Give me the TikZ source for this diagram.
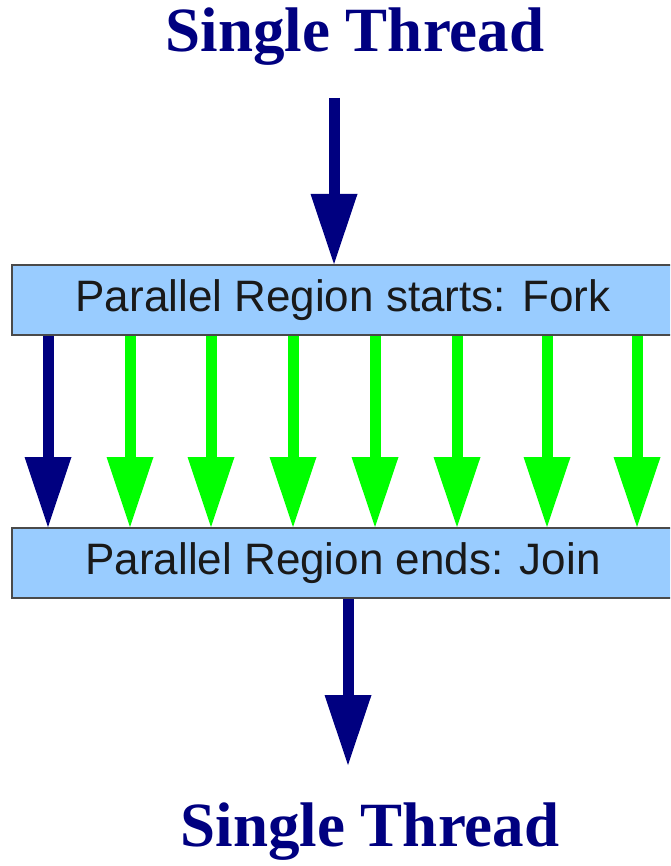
\documentclass[tikz,border=0pt]{standalone}
\usepackage{fontspec}
\setmainfont{Liberation Serif}
\newfontfamily\labelfont{Liberation Sans}
\usetikzlibrary{arrows.meta}
\definecolor{threadnavy}{HTML}{000080}
\definecolor{threadgreen}{HTML}{00FF00}
\definecolor{regionfill}{HTML}{99CCFF}
\definecolor{regionedge}{HTML}{4A4A4A}
\tikzset{
  title/.style={text=threadnavy, font=\fontsize{63}{63}\selectfont\bfseries, inner sep=0pt},
  regionbox/.style={draw=regionedge, line width=2pt, fill=regionfill,
    minimum width=662pt, minimum height=70pt, inner sep=0pt,
    font=\labelfont\fontsize{44}{44}\selectfont, text=black!90},
  thread/.style={line width=11pt,
    -{Triangle[width=47pt,length=70pt,line width=0pt]}},
  master/.style={thread, draw=threadnavy},
  worker/.style={thread, draw=threadgreen},
}
\begin{document}
\begin{tikzpicture}[x=1pt,y=-1pt]
  \useasboundingbox (0,0) rectangle (670,866);
  \clip (0,0) rectangle (670,866);

  % titles
  \node[title] (tin) at (355,37) {Single Thread};
  \node[title] (tout) at (370,832) {Single Thread};

  % fork and join regions
  \node[regionbox] (fork) at (343,300) {Parallel Region starts: Fork};
  \node[regionbox] (join) at (343,563) {Parallel Region ends: Join};

  % single thread entering the fork
  \coordinate (inStart) at (334,98);
  \draw[master] (inStart) -- (inStart |- fork.north);

  % master thread through the parallel region
  \coordinate (m) at (48,0);
  \draw[master] (m |- fork.south) -- (m |- join.north);

  % worker threads
  \foreach \i/\x in {1/130,2/211,3/293,4/375,5/457,6/547,7/637}{
    \coordinate (w\i) at (\x,0);
    \draw[worker] (w\i |- fork.south) -- (w\i |- join.north);
  }

  % single thread leaving the join
  \coordinate (outEnd) at (348,765);
  \draw[master] (outEnd |- join.south) -- (outEnd);
\end{tikzpicture}
\end{document}
